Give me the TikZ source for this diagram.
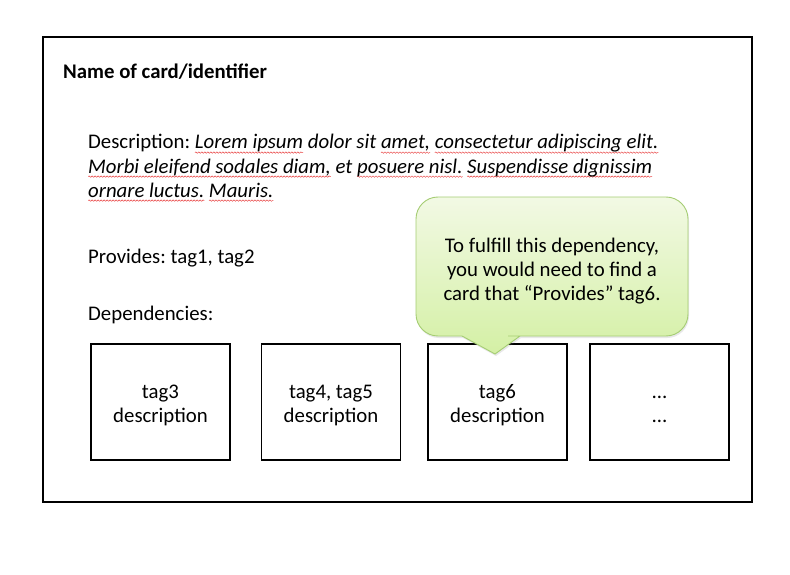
\documentclass[tikz,border=0pt]{standalone}
\usepackage{fontspec}
\setmainfont{Carlito}
\usetikzlibrary{decorations.pathmorphing,shadows}
\definecolor{sqred}{RGB}{232,60,60}
\definecolor{calltop}{RGB}{242,249,228}
\definecolor{callbot}{RGB}{212,240,165}
\definecolor{callborder}{RGB}{165,205,115}
\frenchspacing
\newlength\sqw
\newcommand\sq[1]{\settowidth\sqw{#1}\rlap{\tikz[overlay,baseline=0pt]\draw[sqred,line width=0.45pt,decorate,decoration={snake,amplitude=0.7pt,segment length=3pt}] (0pt,-3.6pt) -- (\sqw,-3.6pt);}#1}
\tikzset{
  txt/.style={inner sep=0pt, anchor=base west},
  cardbox/.style={draw, line width=1.6pt, minimum width=709pt, minimum height=465pt, inner sep=0pt},
  depbox/.style={draw, line width=1.6pt, minimum width=139pt, minimum height=116pt, inner sep=0pt},
  boxtext/.style={align=center, inner sep=0pt, yshift=-3.5pt},
  callout/.style={draw=callborder, line width=0.9pt, top color=calltop, bottom color=callbot,
    drop shadow={opacity=0.18, shadow xshift=1pt, shadow yshift=-2pt}},
}
\begin{document}
\begin{tikzpicture}[x=1pt,y=-1pt,font=\fontsize{20.8}{24}\selectfont]
\useasboundingbox[fill=white] (0,0) rectangle (790,575);
\node[cardbox] (card) at (397.5,269.5) {};
\node[txt, font=\fontsize{20.8}{24}\selectfont\bfseries] (title) at (63,79) {Name of card/identifier};
\node[txt] (desc1) at (88,149) {Description: {\itshape \sq{Lorem ipsum} dolor sit \sq{amet,} \sq{consectetur adipiscing elit.}}};
\node[txt] (desc2) at (88,173) {{\itshape \sq{Morbi eleifend sodales diam,} et \sq{posuere nisl.} \sq{Suspendisse dignissim}}};
\node[txt] (desc3) at (88,197) {{\itshape \sq{ornare luctus.} \sq{Mauris.}}};
\node[txt] (prov) at (88,263) {Provides: tag1, tag2};
\node[txt] (deps) at (88,320) {Dependencies:};
\node[depbox] (d1) at (160.5,402) {};
\node[depbox] (d2) at (331,402) {};
\node[depbox] (d3) at (497.5,402) {};
\node[depbox] (d4) at (659.5,402) {};
\node[boxtext] (t1) at (d1) {tag3\\description};
\node[boxtext] (t2) at (d2) {tag4, tag5\\description};
\node[boxtext] (t3) at (d3) {tag6\\description};
\node[boxtext] (t4) at (d4) {\vphantom{tag3}…\\\vphantom{description}…};
\path[callout] (552,197) [rounded corners=22pt] -- (688,197) -- (688,336) -- (530,336) [sharp corners] -- (520,336) -- (495,354) -- (462,336) -- (452,336) [rounded corners=22pt] -- (416,336) -- (416,197) -- cycle;
\node[align=center, inner sep=0pt] (note) at (552,271.5) {To fulfill this dependency,\\you would need to find a\\card that “Provides” tag6.};
\end{tikzpicture}
\end{document}
